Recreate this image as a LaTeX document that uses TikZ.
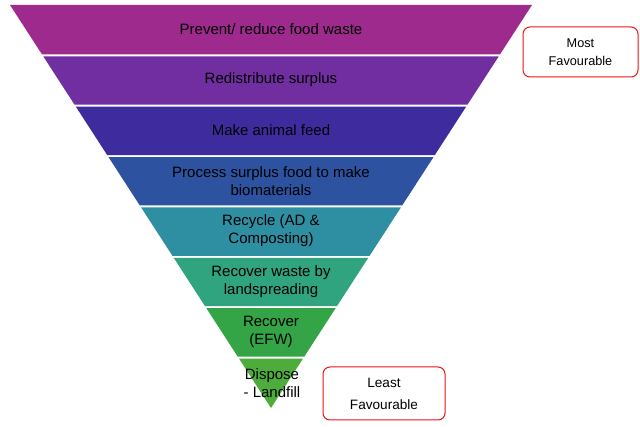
\documentclass[tikz,border=0pt]{standalone}
\usepackage{fontspec}
\setmainfont{Liberation Sans}
\definecolor{b1}{RGB}{158,42,142}
\definecolor{b2}{RGB}{112,46,160}
\definecolor{b3}{RGB}{62,44,158}
\definecolor{b4}{RGB}{45,82,160}
\definecolor{b5}{RGB}{46,143,163}
\definecolor{b6}{RGB}{47,164,127}
\definecolor{b7}{RGB}{51,165,70}
\definecolor{b8}{RGB}{78,172,60}
\definecolor{boxred}{RGB}{235,20,20}
\begin{document}
\begin{tikzpicture}[x=1pt,y=-1pt,
  bandtext/.style={align=center,font=\fontsize{15}{18}\selectfont,text=black,inner sep=0pt},
  favbox/.style={draw=boxred,line width=1pt,rounded corners=7pt,fill=white,align=center}]
\useasboundingbox (0,0) rectangle (640,427);
\fill[white] (0,0) rectangle (640,427);
\def\xl#1{10+(#1-5)/403*261}
\def\xr#1{532-(#1-5)/403*261}
\foreach \k/\c in {0/b1,1/b2,2/b3,3/b4,4/b5,5/b6,6/b7,7/b8}{
  \pgfmathsetmacro{\ya}{5+\k*50.375+ifthenelse(\k>0,1,0)}
  \pgfmathsetmacro{\yb}{5+(\k+1)*50.375-ifthenelse(\k<7,1,0)}
  \pgfmathsetmacro{\xa}{\xl{\ya}}
  \pgfmathsetmacro{\xb}{\xr{\ya}}
  \pgfmathsetmacro{\xc}{\xr{\yb}}
  \pgfmathsetmacro{\xd}{\xl{\yb}}
  \fill[\c] (\xa,\ya) -- (\xb,\ya) -- (\xc,\yb) -- (\xd,\yb) -- cycle;
}
\node[bandtext] (t1) at (271,29) {Prevent/ reduce food waste};
\node[bandtext] (t2) at (271,80) {Redistribute surplus};
\node[bandtext] (t3) at (271,130) {Make animal feed};
\node[bandtext] (t4) at (271,181) {Process surplus food to make\\biomaterials};
\node[bandtext] (t5) at (271,231) {Recycle (AD \&\\Composting)};
\node[bandtext] (t6) at (271,282) {Recover waste by\\landspreading};
\node[bandtext] (t7) at (271,332) {Recover\\(EFW)};
\node[bandtext] (t8) at (272,383) {Dispose\\- Landfill};
\node[favbox,minimum width=115pt,minimum height=50pt,font=\fontsize{12.7}{18}\selectfont] (most) at (580.5,52) {Most\\Favourable};
\node[favbox,minimum width=122pt,minimum height=53pt,font=\fontsize{13.6}{22}\selectfont] (least) at (384,393.5) {Least\\Favourable};
\end{tikzpicture}
\end{document}
